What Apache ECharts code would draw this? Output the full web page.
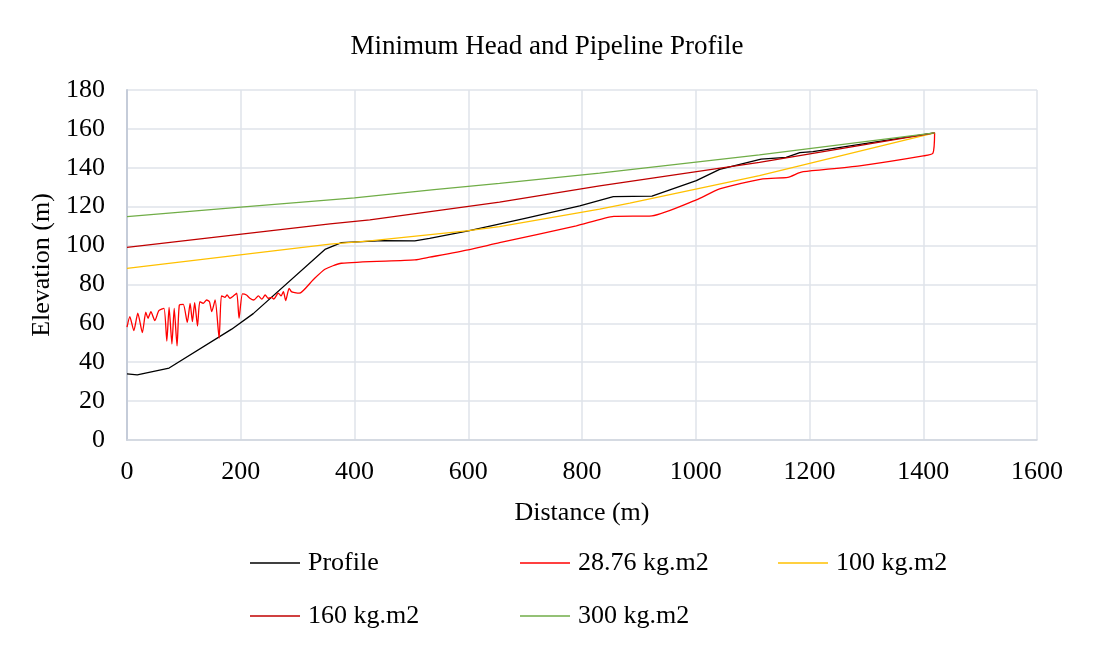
<!DOCTYPE html>
<html>
<head>
<meta charset="utf-8">
<script src="https://cdn.jsdelivr.net/npm/echarts@6/dist/echarts.min.js"></script>
<style>
  html, body { margin: 0; padding: 0; background: #fff; }
  #chart { width: 1094px; height: 648px; }
</style>
</head>
<body>
<div id="chart"></div>
<script>
// distance (m) / elevation (m)
const profileX = [0, 18, 74, 184, 222, 348, 377, 450, 506, 532, 600, 700, 796, 855, 923, 1001, 1042, 1115, 1159, 1183, 1206, 1300, 1420]
const profileY = [34, 33.5, 37, 57, 65, 98, 101.5, 102.5, 102.4, 103.7, 107.5, 114, 120.4, 125.2, 125.4, 133.4, 139.2, 144.4, 145.4, 147.8, 148.3, 152.5, 158]

const head28X = [0, 5, 12, 19, 27, 33, 37, 42, 49, 56, 65, 70, 74, 79, 83, 88, 92, 99, 106, 111, 115, 119, 124, 128, 134, 140, 145, 149, 155, 162, 166, 172, 176, 181, 187, 193, 197, 203, 210, 216, 223, 231, 237, 243, 248, 254, 258, 266, 271, 275, 279, 285, 289, 295, 303, 327, 348, 377, 506, 532, 600, 655, 790, 856, 923, 1001, 1042, 1118, 1162, 1180, 1189, 1288, 1400, 1417, 1420]
const head28Y = [58, 63.4, 56.2, 65.2, 55.2, 65.7, 62.6, 66, 61.4, 66.5, 67.7, 50.9, 68.2, 49.4, 67.7, 48.4, 69.4, 69.8, 60.5, 70.3, 60.9, 70.6, 58.6, 71.1, 70.3, 72, 71.1, 66, 72, 52.3, 74.1, 73.4, 74.6, 72.9, 74.1, 75.5, 62.6, 75.1, 74.6, 72.9, 72, 74.1, 72.4, 74.6, 72.9, 73.4, 72.5, 75.5, 74.1, 76.3, 71.7, 78, 76.3, 75.8, 75.5, 82.3, 87.8, 90.9, 92.6, 94, 97.8, 101.5, 110.1, 115, 115.3, 123.5, 129.1, 134.3, 135.1, 137.2, 138, 141, 146.1, 147.5, 158]

const head100X = [0, 357, 427, 597, 655, 831, 884, 1112, 1420]
const head100Y = [88.3, 100.7, 102.4, 107.5, 109.7, 118.7, 121.8, 136, 158]

const head160X = [0, 357, 427, 655, 831, 1112, 1420]
const head160Y = [99.1, 111.1, 113.2, 122.3, 130.7, 142.8, 158]

const head300X = [0, 200, 400, 540, 655, 831, 1112, 1420]
const head300Y = [114.9, 119.8, 124.5, 128.8, 132, 137.2, 146.6, 158]

const seriesNames = ['Profile', '28.76 kg.m2', '100 kg.m2', '160 kg.m2', '300 kg.m2']
const seriesColors = ['#000000', '#ff0000', '#ffc000', '#c00000', '#70ad47']

const xTicks = { min: 0, max: 1600, interval: 200 }
const yTicks = { min: 0, max: 180, interval: 20 }

const font = 'Liberation Serif, Times New Roman, serif'
const fs = 26

function pairs(xs, ys) {
  return xs.map((x, i) => [x, ys[i]])
}

const allData = [
  pairs(profileX, profileY),
  pairs(head28X, head28Y),
  pairs(head100X, head100Y),
  pairs(head160X, head160Y),
  pairs(head300X, head300Y),
]

// legend slots: [left, top]
const legendPos = [[250, 550], [520, 550], [778, 550], [250, 603], [520, 603]]

const chart = echarts.init(document.getElementById('chart'))
chart.setOption({
  animation: false,
  title: {
    text: 'Minimum Head and Pipeline Profile',
    left: 'center',
    top: 28,
    textStyle: { fontFamily: font, fontSize: 27, fontWeight: 'normal', color: '#000' },
  },
  legend: seriesNames.map((name, i) => ({
    data: [name],
    left: legendPos[i][0],
    top: legendPos[i][1],
    padding: 0,
    icon: 'rect',
    itemWidth: 50,
    itemHeight: 1.5,
    itemGap: 8,
    textStyle: { fontFamily: font, fontSize: fs, color: '#000', padding: [0, 0, 0, 3] },
  })),
  grid: { left: 127, right: 57, top: 90, bottom: 208 },
  xAxis: {
    type: 'value',
    ...xTicks,
    name: 'Distance (m)',
    nameLocation: 'middle',
    nameGap: 60,
    nameTextStyle: { fontFamily: font, fontSize: fs, color: '#000' },
    axisLine: { show: true, lineStyle: { color: '#d0d5de', width: 1.5 } },
    axisTick: { show: false },
    axisLabel: { fontFamily: font, fontSize: fs, color: '#000', margin: 19, formatter: v => String(v) },
    splitLine: { show: true, lineStyle: { color: '#dfe3ea', width: 1.5 } },
  },
  yAxis: {
    type: 'value',
    ...yTicks,
    name: 'Elevation (m)',
    nameLocation: 'middle',
    nameGap: 72,
    nameTextStyle: { fontFamily: font, fontSize: fs, color: '#000' },
    axisLine: { show: true, lineStyle: { color: '#c5ccd9', width: 2 } },
    axisTick: { show: false },
    axisLabel: { fontFamily: font, fontSize: fs, color: '#000', margin: 22, formatter: v => String(v) },
    splitLine: { show: true, lineStyle: { color: '#dfe3ea', width: 1.5 } },
  },
  series: seriesNames.map((name, i) => ({
    name,
    type: 'line',
    data: allData[i],
    symbol: 'none',
    smooth: i === 1 ? 0.2 : false,
    lineStyle: { color: seriesColors[i], width: 1.3 },
    itemStyle: { color: seriesColors[i] },
    emphasis: { disabled: true },
  })),
})
</script>
</body>
</html>
